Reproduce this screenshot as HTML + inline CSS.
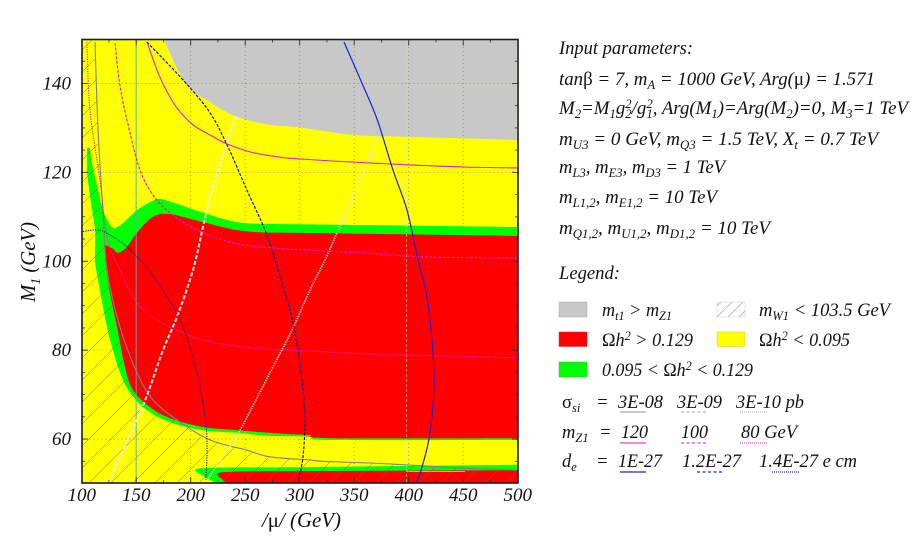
<!DOCTYPE html>
<html>
<head>
<meta charset="utf-8">
<title>Relic density parameter plane</title>
<style>
html,body{margin:0;padding:0;background:#fff;width:914px;height:545px;overflow:hidden}
svg{display:block}
text{font-family:"Liberation Serif",serif;font-style:italic;fill:#111}
.u{font-style:normal}
.p{font-size:18.5px}
</style>
</head>
<body>
<svg id="chart" width="914" height="545" viewBox="0 0 914 545" xmlns="http://www.w3.org/2000/svg">
<defs>
<clipPath id="plot-clip"><rect x="82" y="39.5" width="436" height="443.5"/></clipPath>
<clipPath id="hatch-clip"><path id="hatch-poly" d="M0,0"/></clipPath>
<pattern id="hatch" patternUnits="userSpaceOnUse" width="22" height="22">
<path d="M-2,24 L24,-2 M-2,2 L2,-2 M20,24 L24,20" stroke="#6e6e30" stroke-width="0.5" fill="none"/>
</pattern>
<pattern id="hatch-swatch" patternUnits="userSpaceOnUse" width="11" height="11">
<path d="M-1,12 L12,-1" stroke="#aaa" stroke-width="0.7" fill="none"/>
</pattern>
</defs>
<g id="plot" clip-path="url(#plot-clip)"></g>
<g id="axes"></g>
<text x="262" y="527" font-size="21" textLength="79" lengthAdjust="spacingAndGlyphs"><tspan>/</tspan><tspan class="u">μ</tspan><tspan>/ (GeV)</tspan></text>
<text transform="translate(35,302) rotate(-90)" font-size="21" textLength="80" lengthAdjust="spacingAndGlyphs">M<tspan dy="5" font-size="14">1</tspan><tspan dy="-5"> (GeV)</tspan></text>

<g>
<text class="p" x="559" y="54" textLength="134" lengthAdjust="spacingAndGlyphs">Input parameters:</text>
<text class="p" x="559" y="85" textLength="316" lengthAdjust="spacingAndGlyphs">tan<tspan class="u">β</tspan> = 7, m<tspan dy="4" font-size="12.5">A</tspan><tspan dy="-4"> = 1000 GeV, Arg(</tspan><tspan class="u">μ</tspan>) = 1.571</text>
<text class="p" x="559" y="114" textLength="349" lengthAdjust="spacingAndGlyphs">M<tspan dy="4" font-size="12.5">2</tspan><tspan dy="-4">=M</tspan><tspan dy="4" font-size="12.5">1</tspan><tspan dy="-4">g</tspan><tspan dy="4" font-size="12.5">2</tspan><tspan dx="-6.2" dy="-10" font-size="12.5">2</tspan><tspan dy="6">/g</tspan><tspan dy="4" font-size="12.5">1</tspan><tspan dx="-6.2" dy="-10" font-size="12.5">2</tspan><tspan dy="6">, Arg(M</tspan><tspan dy="4" font-size="12.5">1</tspan><tspan dy="-4">)=Arg(M</tspan><tspan dy="4" font-size="12.5">2</tspan><tspan dy="-4">)=0, M</tspan><tspan dy="4" font-size="12.5">3</tspan><tspan dy="-4">=1 TeV</tspan></text>
<text class="p" x="559" y="145" textLength="319" lengthAdjust="spacingAndGlyphs">m<tspan dy="4" font-size="12.5">U3</tspan><tspan dy="-4"> = 0 GeV, m</tspan><tspan dy="4" font-size="12.5">Q3</tspan><tspan dy="-4"> = 1.5 TeV, X</tspan><tspan dy="4" font-size="12.5">t</tspan><tspan dy="-4"> = 0.7 TeV</tspan></text>
<text class="p" x="559" y="173" textLength="166" lengthAdjust="spacingAndGlyphs">m<tspan dy="4" font-size="12.5">L3</tspan><tspan dy="-4">, m</tspan><tspan dy="4" font-size="12.5">E3</tspan><tspan dy="-4">, m</tspan><tspan dy="4" font-size="12.5">D3</tspan><tspan dy="-4"> = 1 TeV</tspan></text>
<text class="p" x="559" y="203" textLength="158" lengthAdjust="spacingAndGlyphs">m<tspan dy="4" font-size="12.5">L1,2</tspan><tspan dy="-4">, m</tspan><tspan dy="4" font-size="12.5">E1,2</tspan><tspan dy="-4"> = 10 TeV</tspan></text>
<text class="p" x="559" y="234" textLength="211" lengthAdjust="spacingAndGlyphs">m<tspan dy="4" font-size="12.5">Q1,2</tspan><tspan dy="-4">, m</tspan><tspan dy="4" font-size="12.5">U1,2</tspan><tspan dy="-4">, m</tspan><tspan dy="4" font-size="12.5">D1,2</tspan><tspan dy="-4"> = 10 TeV</tspan></text>
</g>

<g>
<text class="p" x="559" y="279" textLength="61" lengthAdjust="spacingAndGlyphs">Legend:</text>
<rect x="559" y="302" width="28" height="15" fill="#c8c8c8" stroke="#aaa" stroke-width="0.5"/>
<text class="p" x="602" y="316" textLength="70" lengthAdjust="spacingAndGlyphs">m<tspan dy="4" font-size="12.5">t1</tspan><tspan dy="-4"> &gt; m</tspan><tspan dy="4" font-size="12.5">Z1</tspan></text>
<rect x="717" y="302" width="28" height="15" fill="url(#hatch-swatch)" stroke="#ccc" stroke-width="0.5"/>
<text class="p" x="759" y="316" textLength="131" lengthAdjust="spacingAndGlyphs">m<tspan dy="4" font-size="12.5">W1</tspan><tspan dy="-4"> &lt; 103.5 GeV</tspan></text>
<rect x="559" y="332" width="28" height="14.5" fill="#ff0000" stroke="#c33" stroke-width="0.5"/>
<text class="p" x="602" y="346" textLength="91" lengthAdjust="spacingAndGlyphs"><tspan class="u">Ω</tspan>h<tspan dy="-6" font-size="12.5">2</tspan><tspan dy="6"> &gt; 0.129</tspan></text>
<rect x="717" y="332" width="28" height="14.5" fill="#ffff00" stroke="#cc3" stroke-width="0.5"/>
<text class="p" x="759" y="346" textLength="91" lengthAdjust="spacingAndGlyphs"><tspan class="u">Ω</tspan>h<tspan dy="-6" font-size="12.5">2</tspan><tspan dy="6"> &lt; 0.095</tspan></text>
<rect x="559" y="362" width="28" height="15" fill="#00ff00" stroke="#3c3" stroke-width="0.5"/>
<text class="p" x="602" y="376" textLength="151" lengthAdjust="spacingAndGlyphs">0.095 &lt; <tspan class="u">Ω</tspan>h<tspan dy="-6" font-size="12.5">2</tspan><tspan dy="6"> &lt; 0.129</tspan></text>

<text class="p" x="562" y="408"><tspan class="u">σ</tspan><tspan dy="4" font-size="12.5">si</tspan></text>
<text class="p" x="596" y="408">=</text>
<text class="p" x="618" y="408" textLength="45" lengthAdjust="spacingAndGlyphs">3E-08</text>
<text class="p" x="677" y="408" textLength="45" lengthAdjust="spacingAndGlyphs">3E-09</text>
<text class="p" x="736" y="408" textLength="68" lengthAdjust="spacingAndGlyphs">3E-10 pb</text>
<line x1="620" x2="646" y1="412" y2="412" stroke="#a8a8a8" stroke-width="1.3"/>
<line x1="681" x2="707" y1="412" y2="412" stroke="#b4b4b4" stroke-width="1.3" stroke-dasharray="3 2.5"/>
<line x1="740" x2="767" y1="412" y2="412" stroke="#c0c0c0" stroke-width="1.2" stroke-dasharray="1 1"/>

<text class="p" x="562" y="438">m<tspan dy="4" font-size="12.5">Z1</tspan></text>
<text class="p" x="599" y="438">=</text>
<text class="p" x="621" y="438" textLength="27" lengthAdjust="spacingAndGlyphs">120</text>
<text class="p" x="681" y="438" textLength="27" lengthAdjust="spacingAndGlyphs">100</text>
<text class="p" x="741" y="438" textLength="56" lengthAdjust="spacingAndGlyphs">80 GeV</text>
<line x1="620" x2="646" y1="443" y2="443" stroke="#e040d8" stroke-width="1.3"/>
<line x1="681" x2="707" y1="443" y2="443" stroke="#e040d8" stroke-width="1.2" stroke-dasharray="3 2.5"/>
<line x1="740" x2="767" y1="443" y2="443" stroke="#e060d8" stroke-width="1.2" stroke-dasharray="1 1"/>

<text class="p" x="562" y="467">d<tspan dy="4" font-size="12.5">e</tspan></text>
<text class="p" x="596" y="467">=</text>
<text class="p" x="618" y="467" textLength="44" lengthAdjust="spacingAndGlyphs">1E-27</text>
<text class="p" x="682" y="467" textLength="59" lengthAdjust="spacingAndGlyphs">1.2E-27</text>
<text class="p" x="759" y="467" textLength="98" lengthAdjust="spacingAndGlyphs">1.4E-27 e cm</text>
<line x1="620" x2="646" y1="472" y2="472" stroke="#2020c8" stroke-width="1.3"/>
<line x1="697" x2="723" y1="472" y2="472" stroke="#2020c8" stroke-width="1.2" stroke-dasharray="3 2.5"/>
<line x1="772" x2="800" y1="472" y2="472" stroke="#3030c8" stroke-width="1.2" stroke-dasharray="1 1"/>
</g>
</svg>

<script>
// Axis values
const xTickValues = [100, 150, 200, 250, 300, 350, 400, 450, 500];
const yTickValues = [60, 80, 100, 120, 140];
const xMinorValues = [125, 175, 225, 275, 325, 375, 425, 475];
const yMinorValues = [55, 65, 70, 75, 85, 90, 95, 105, 110, 115, 125, 130, 135, 145];

// Regions: [|mu| GeV, M1 GeV]. A repeated point marks a sharp corner.
const grayRegion = [[175.5,150],[175.5,150],[175.5,149.8],[194.8,140.3],[217.7,135.8],[242.5,132.5],[272.7,130.7],[300.3,130.1],[350.7,128.4],[398.4,128.0],[499.3,127.3],[499.3,127.3],[499.3,150],[499.3,150]];
const greenRegion = [[104.9,125.5],[104.9,125.5],[107.6,125.5],[107.6,125.5],[109.4,122.1],[115.0,116.0],[119.5,111.5],[126.0,108.2],[130.6,107.5],[137.9,108.6],[150.7,111.5],[162.7,113.3],[171.8,114.0],[190.2,112.7],[211.3,110.9],[242.5,108.8],[272.7,108.4],[309.4,108.3],[499.3,107.7],[499.3,107.7],[499.3,59.8],[499.3,59.8],[327.8,59.8],[309.4,60.5],[272.7,60.7],[242.5,61.4],[211.3,62.0],[181.0,63.8],[159.9,66.5],[144.3,70.4],[135.1,74.9],[128.7,80.0],[123.2,85.2],[115.0,95.8],[112.2,100.3],[112.2,107.0],[108.5,113.1],[104.9,119.9],[104.9,119.9]];
const redRegion = [[121.4,103.7],[121.4,103.7],[128.7,102.8],[133.3,101.9],[141.6,103.2],[150.7,106.4],[165.4,110.0],[181.0,110.6],[211.3,108.8],[242.5,107.0],[272.7,106.4],[291.1,106.4],[500,105.7],[500,105.7],[500,60.2],[500,60.2],[327.8,60.2],[309.4,60.9],[291.1,61.1],[272.7,61.4],[242.5,62.0],[211.3,62.7],[181.0,64.7],[162.7,67.2],[147.1,71.0],[139.7,76.2],[132.4,85.2],[126.0,92.9],[121.4,100.3],[121.4,100.3]];
const greenSliver = [[204.8,52.6],[204.8,52.6],[215.0,53.5],[309.4,53.7],[499.3,54.2],[499.3,54.2],[499.3,50],[499.3,50],[224.1,50],[224.1,50],[215.0,51.2],[215.0,51.2]];
const redSliver = [[225.0,51.7],[225.0,51.7],[233.3,52.6],[309.4,52.8],[500,53.0],[500,53.0],[500,50],[500,50],[233.3,50],[233.3,50]];
const thinYellowStreak = [[398.4,52.7],[451.6,52.7]];

// Contours: [|mu| GeV, M1 GeV]
const sigma3e08 = [[112.2,149.3],[115.0,129.5],[119.5,111.0],[123.2,98.0],[135.1,85.2],[150.7,74.9],[165.4,68.8],[187.4,64.3],[217.7,59.8],[251.6,57.5],[272.7,56.0],[309.4,55.3],[321.4,55.0],[382.8,54.4],[444.3,53.5],[499.3,53.0]];
const sigma3e09 = [[241.6,132.5],[233.3,126.6],[220.5,116.7],[211.3,107.7],[202.1,98.0],[187.4,87.5],[174.6,80.0],[160.8,70.4],[150.7,64.3],[137.9,57.5],[125.0,50.3]];
const sigma3e10 = [[371.8,128.2],[361.7,122.1],[348.9,114.5],[334.2,106.4],[323.2,100.3],[309.4,93.5],[293.9,85.0],[272.7,74.9],[245.2,62.0],[229.6,56.0],[215.0,50.8]];
const mz120 = [[159.9,149.3],[169.1,143.0],[176.4,139.0],[187.4,134.5],[202.1,130.7],[217.7,128.4],[233.3,126.4],[254.4,124.6],[279.1,123.5],[300.3,123.0],[348.9,122.3],[398.4,121.7],[449.8,121.2],[499.3,121.0]];
const mz100 = [[130.6,149.1],[135.1,139.4],[144.3,128.9],[153.5,120.5],[165.4,114.9],[181.0,110.9],[202.1,107.5],[224.1,105.2],[248.0,103.7],[272.7,103.0],[309.4,102.5],[357.1,101.9],[413.1,101.0],[499.3,100.7]];
const mz80 = [[104.9,149.3],[107.6,134.0],[116.8,118.3],[123.2,105.5],[135.1,98.0],[150.7,90.6],[169.1,86.8],[187.4,84.5],[211.3,82.3],[242.5,80.9],[272.7,80.2],[309.4,79.8],[357.1,79.2],[413.1,78.8],[499.3,78.3]];
const de1e27 = [[340.6,149.3],[357.1,140.1],[370.9,132.0],[385.6,120.5],[398.4,111.5],[408.5,100.3],[417.7,90.6],[423.2,74.0],[419.5,61.4],[412.2,53.7],[407.6,50.3]];
const de12e27 = [[159.9,149.3],[194.8,140.3],[217.7,133.4],[233.3,126.2],[251.6,116.0],[268.2,107.0],[277.3,100.3],[291.1,89.0],[298.5,80.0],[303.0,71.0],[304.9,64.3],[303.0,56.0],[298.5,50.3]];
const de14e27 = [[101.2,106.7],[115.0,107.0],[126.0,105.9],[141.6,103.2],[159.9,98.5],[178.3,92.0],[193.0,85.2],[205.8,74.9],[213.1,65.0],[215.0,58.2],[214.0,50.8]];

// Axis functions
function xScale(mu) { return 81.7 + (mu - 100) * 1.09; }
function yScale(m1) { return 483.5 - (m1 - 50) * 4.445; }

const SVGNS = 'http://www.w3.org/2000/svg';
const plotGroup = document.getElementById('plot');
const axesGroup = document.getElementById('axes');

// Smooth path through data points (Catmull-Rom converted to cubic Bezier)
function smoothPath(pts) {
  const p = pts.map(function (q) { return [xScale(q[0]), yScale(q[1])]; });
  let d = 'M' + p[0][0].toFixed(1) + ',' + p[0][1].toFixed(1);
  for (let i = 0; i < p.length - 1; i++) {
    const a = p[Math.max(i - 1, 0)], b = p[i], c = p[i + 1], e = p[Math.min(i + 2, p.length - 1)];
    const c1x = b[0] + (c[0] - a[0]) / 6, c1y = b[1] + (c[1] - a[1]) / 6;
    const c2x = c[0] - (e[0] - b[0]) / 6, c2y = c[1] - (e[1] - b[1]) / 6;
    d += 'C' + c1x.toFixed(1) + ',' + c1y.toFixed(1) + ' ' + c2x.toFixed(1) + ',' + c2y.toFixed(1) + ' ' + c[0].toFixed(1) + ',' + c[1].toFixed(1);
  }
  return d;
}
function addPolygon(pts, fill, name) {
  const el = document.createElementNS(SVGNS, 'path');
  el.setAttribute('d', smoothPath(pts) + 'Z');
  el.setAttribute('fill', fill);
  
  
  plotGroup.appendChild(el);
  return el;
}
function addCurve(pts, color, width, dash, name) {
  const el = document.createElementNS(SVGNS, 'path');
  el.setAttribute('d', smoothPath(pts));
  el.setAttribute('fill', 'none');
  el.setAttribute('stroke', color);
  el.setAttribute('stroke-width', width);
  el.setAttribute('stroke-linejoin', 'round');
  if (dash) el.setAttribute('stroke-dasharray', dash);
  
  
  plotGroup.appendChild(el);
  return el;
}
function addGuide(parent, x1, y1, x2, y2, color, width, dash, name) {
  const el = document.createElementNS(SVGNS, 'line');
  el.setAttribute('x1', x1);
  el.setAttribute('y1', y1);
  el.setAttribute('x2', x2);
  el.setAttribute('y2', y2);
  el.setAttribute('stroke', color);
  el.setAttribute('stroke-width', width);
  if (dash) el.setAttribute('stroke-dasharray', dash);
  
  
  parent.appendChild(el);
  return el;
}
function addLabel(x, y, txt, anchor, name) {
  const el = document.createElementNS(SVGNS, 'text');
  el.setAttribute('x', x);
  el.setAttribute('y', y);
  el.setAttribute('font-size', '19');
  el.setAttribute('text-anchor', anchor);
  el.textContent = txt;
  
  
  axesGroup.appendChild(el);
}

// Background regions
const yellowBackground = [[100,50],[100,50],[100,150],[100,150],[499.3,150],[499.3,150],[499.3,50],[499.3,50]];
addPolygon(yellowBackground, '#ffff00', 'underdense-region');
addPolygon(grayRegion, '#c8c8c8', 'stop-lsp-region');

// Dotted grid, beneath the red and green regions
xTickValues.slice(1, -1).forEach(function (v) {
  addGuide(plotGroup, xScale(v), yScale(150), xScale(v), yScale(50), '#8a8a50', 0.8, '1 3', 'grid-line-x-' + v);
});
yTickValues.forEach(function (v) {
  addGuide(plotGroup, xScale(100), yScale(v), xScale(500), yScale(v), '#8a8a50', 0.8, '1 3', 'grid-line-y-' + v);
});

addPolygon(greenRegion, '#00ff00', 'allowed-band');
addPolygon(greenSliver, '#00ff00', 'allowed-band-lower');
addPolygon(redRegion, '#ff0000', 'overdense-region');
addPolygon(redSliver, '#ff0000', 'overdense-region-lower');
addCurve(thinYellowStreak, '#ffb000', 1, null, 'thin-yellow-streak');

// Hatched chargino limit region
const hatchEndMu = 500;
document.getElementById('hatch-poly').setAttribute('d', smoothPath(sigma3e08) + 'L' + xScale(hatchEndMu) + ',' + yScale(50) + 'L' + xScale(100) + ',' + yScale(50) + 'L' + xScale(100) + ',' + yScale(150) + 'L' + xScale(sigma3e08[0][0]) + ',' + yScale(150) + 'Z');
const hatchRect = document.createElementNS(SVGNS, 'rect');
hatchRect.setAttribute('x', 82);
hatchRect.setAttribute('y', 39);
hatchRect.setAttribute('width', 436);
hatchRect.setAttribute('height', 445);
hatchRect.setAttribute('fill', 'url(#hatch)');
hatchRect.setAttribute('clip-path', 'url(#hatch-clip)');


plotGroup.appendChild(hatchRect);

// Pale vertical guides
addGuide(plotGroup, xScale(150), yScale(150), xScale(150), yScale(50), 'rgba(95,175,170,0.75)', 1.2, null, 'pale-guide-150');
addGuide(plotGroup, xScale(398), yScale(150), xScale(398), yScale(50), 'rgba(210,225,210,0.55)', 1.1, '3 2', 'pale-guide-398');

// Contours
addCurve(sigma3e08, '#808090', 1.1, null, 'sigma-3e-08-contour');
addCurve(sigma3e09, '#ececec', 2, '4 2', 'sigma-3e-09-contour');
addCurve(sigma3e10, '#e4e4e4', 1.7, '1.2 1.2', 'sigma-3e-10-contour');
addCurve(mz120, '#e020d0', 1.1, null, 'mz1-120-contour');
addCurve(mz100, '#e020c0', 1.1, '3 1.5', 'mz1-100-contour');
addCurve(mz80, '#e020c0', 1.1, '1.2 1.2', 'mz1-80-contour');
addCurve(de1e27, '#2020d0', 1.2, null, 'de-1e-27-contour');
addCurve(de12e27, '#14148c', 1.2, '3 1.5', 'de-1-2e-27-contour');
addCurve(de14e27, '#1c1c9c', 1.1, '1.2 1.2', 'de-1-4e-27-contour');

// Ticks
xTickValues.slice(1, -1).forEach(function (v) {
  addGuide(axesGroup, xScale(v), 483, xScale(v), 477, '#333', 0.9, null, 'x-tick-bottom-' + v);
  addGuide(axesGroup, xScale(v), 39.5, xScale(v), 45.5, '#333', 0.9, null, 'x-tick-top-' + v);
});
xMinorValues.forEach(function (v) {
  addGuide(axesGroup, xScale(v), 483, xScale(v), 480, '#333', 0.8, null, 'x-minor-tick-bottom-' + v);
  addGuide(axesGroup, xScale(v), 39.5, xScale(v), 42.5, '#333', 0.8, null, 'x-minor-tick-top-' + v);
});
yTickValues.forEach(function (v) {
  addGuide(axesGroup, 82, yScale(v), 88, yScale(v), '#333', 0.9, null, 'y-tick-left-' + v);
  addGuide(axesGroup, 518, yScale(v), 512, yScale(v), '#333', 0.9, null, 'y-tick-right-' + v);
});
yMinorValues.forEach(function (v) {
  addGuide(axesGroup, 82, yScale(v), 85, yScale(v), '#333', 0.8, null, 'y-minor-tick-left-' + v);
  addGuide(axesGroup, 518, yScale(v), 515, yScale(v), '#333', 0.8, null, 'y-minor-tick-right-' + v);
});

// Frame
const frame = document.createElementNS(SVGNS, 'rect');
frame.setAttribute('x', 82);
frame.setAttribute('y', 39.5);
frame.setAttribute('width', 436);
frame.setAttribute('height', 443.5);
frame.setAttribute('fill', 'none');
frame.setAttribute('stroke', '#1a1a2a');
frame.setAttribute('stroke-width', 1.6);


axesGroup.appendChild(frame);

// Tick labels
xTickValues.forEach(function (v) {
  addLabel(xScale(v), 501, String(v), 'middle', 'x-tick-label-' + v);
});
yTickValues.forEach(function (v) {
  addLabel(71, yScale(v) + 6, String(v), 'end', 'y-tick-label-' + v);
});
</script>
</body>
</html>
